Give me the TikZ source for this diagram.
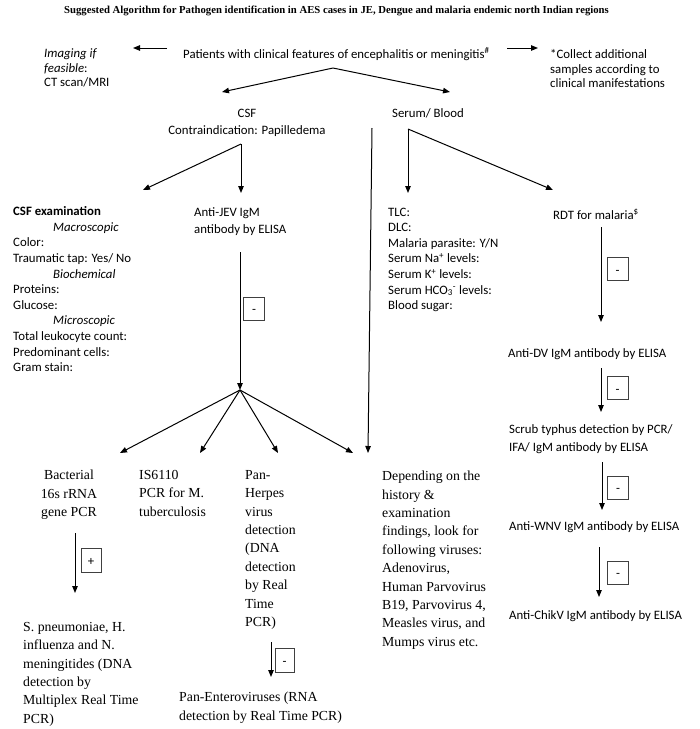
\documentclass[tikz,border=0pt]{standalone}
\usepackage{fontspec}
\setmainfont{Carlito}
\newfontfamily\serifrm{Liberation Serif}
\usetikzlibrary{arrows.meta}
\begin{document}
\begin{tikzpicture}[x=1pt,y=-1pt,
  sans/.style={font=\fontsize{12.8}{15.6}\selectfont, inner sep=0pt, align=left},
  sanssp/.style={font=\fontsize{12.8}{14.5}\selectfont, inner sep=0pt, align=left},
  serifl/.style={font=\serifrm\fontsize{13.8}{18.4}\selectfont, inner sep=0pt, align=left},
  serifc/.style={font=\serifrm\fontsize{13.8}{18.4}\selectfont, inner sep=0pt, align=center},
  arr/.style={-{Triangle[length=7pt,width=5.5pt]}, line width=1pt},
  ln/.style={line width=1pt},
  signbox/.style={draw=black!75, line width=0.6pt, minimum width=21pt, minimum height=23pt, inner sep=0pt, text height=10pt, text depth=0pt, font=\fontsize{12.8}{14}\selectfont}
]
\useasboundingbox (0,0) rectangle (700,729);
\fill[white] (0,0) rectangle (700,729);

% title
\node[anchor=base, inner sep=0pt, font=\serifrm\bfseries\fontsize{10.7}{12}\selectfont] (title) at (336.5,13.5)
  {Suggested Algorithm for Pathogen identification in AES cases in JE, Dengue and malaria endemic north Indian regions};

% top row
\node[sans, anchor=base west] (patients) at (183,58)
  {Patients with clinical features of encephalitis or meningitis\textsuperscript{\#}};
\node[sanssp, anchor=north west] (imaging) at (44,48.5)
  {\textit{Imaging if}\\\textit{feasible}:\\CT scan/MRI};
\node[sanssp, anchor=north west] (collect) at (550,49.5)
  {*Collect additional\\samples according to\\clinical manifestations};
\coordinate (la1) at (167,48);
\coordinate (la2) at (133,48);
\coordinate (ra1) at (507,48);
\coordinate (ra2) at (538,48);
\draw[arr] (la1) -- (la2);
\draw[arr] (ra1) -- (ra2);

% V split
\coordinate (vapex) at (333,68);
\coordinate (vleft) at (222,92);
\coordinate (vright) at (450,92);
\draw[arr] (vapex) -- (vleft);
\draw[arr] (vapex) -- (vright);

\node[sans, anchor=base] (csf) at (247,117) {CSF};
\node[sans, anchor=base] (contra) at (247,134) {Contraindication: Papilledema};
\node[sans, anchor=base] (serum) at (428,117) {Serum/ Blood};

% CSF fork
\coordinate (cfork) at (241,144);
\coordinate (cfl) at (143,190);
\coordinate (cfd) at (241,193);
\draw[arr] (cfork) -- (cfl);
\draw[arr] (cfork) -- (cfd);

% Serum fork
\coordinate (sfork) at (408,129);
\coordinate (sfd) at (408,193);
\coordinate (sfr) at (553,190);
\draw[arr] (sfork) -- (sfd);
\draw[arr] (sfork) -- (sfr);

% long line from serum
\coordinate (lltop) at (372,128);
\coordinate (llbot) at (368,453);
\draw[arr] (lltop) -- (llbot);

% CSF examination
\node[sans, anchor=north west] (csfexam) at (13,206.5)
  {\textbf{CSF examination}\\
   \hspace*{40pt}\textit{Macroscopic}\\
   Color:\\
   Traumatic tap: Yes/ No\\
   \hspace*{40pt}\textit{Biochemical}\\
   Proteins:\\
   Glucose:\\
   \hspace*{40pt}\textit{Microscopic}\\
   Total leukocyte count:\\
   Predominant cells:\\
   Gram stain:};

% Anti-JEV
\node[sans, anchor=north west, font=\fontsize{12.8}{17}\selectfont] (jev) at (194,207.5)
  {Anti-JEV IgM\\antibody by ELISA};
\coordinate (jevtop) at (240,252);
\coordinate (fan) at (240,390);
\draw[arr] (jevtop) -- (fan);
\node[signbox] (jevbox) at (254,308.5) {-};

% serum list
\node[sans, anchor=north west] (tlc) at (388,207.5)
  {TLC:\\DLC:\\Malaria parasite: Y/N\\Serum Na\textsuperscript{+} levels:\\Serum K\textsuperscript{+} levels:\\Serum HCO\textsubscript{3}\textsuperscript{-} levels:\\Blood sugar:};

% right column
\node[sans, anchor=base] (rdt) at (596,219) {RDT for malaria\textsuperscript{\$}};
\coordinate (r1a) at (601,227);
\coordinate (r1b) at (601,322);
\draw[arr] (r1a) -- (r1b);
\node[signbox] (rbox1) at (617.5,269) {-};

\node[sans, anchor=base west] (dv) at (508,357) {Anti-DV IgM antibody by ELISA};
\coordinate (r2a) at (601,368);
\coordinate (r2b) at (601,412);
\draw[arr] (r2a) -- (r2b);
\node[signbox] (rbox2) at (617.5,388) {-};

\node[sans, anchor=north west, font=\fontsize{12.8}{18}\selectfont] (scrub) at (509,424.5)
  {Scrub typhus detection by PCR/\\IFA/ IgM antibody by ELISA};
\coordinate (r3a) at (602,462);
\coordinate (r3b) at (602,510);
\draw[arr] (r3a) -- (r3b);
\node[signbox] (rbox3) at (618,487.5) {-};

\node[sans, anchor=base west] (wnv) at (509,530) {Anti-WNV IgM antibody by ELISA};
\coordinate (r4a) at (599,547);
\coordinate (r4b) at (599,597);
\draw[arr] (r4a) -- (r4b);
\node[signbox] (rbox4) at (618,572.5) {-};

\node[sans, anchor=base west] (chikv) at (509,619) {Anti-ChikV IgM antibody by ELISA};

% fan
\coordinate (f1) at (120,453);
\coordinate (f2) at (200,453);
\coordinate (f3) at (278,453);
\coordinate (f4) at (353,453);
\draw[arr] (fan) -- (f1);
\draw[arr] (fan) -- (f2);
\draw[arr] (fan) -- (f3);
\draw[arr] (fan) -- (f4);

% bottom serif texts
\node[serifc, anchor=north] (bact) at (69,470)
  {Bacterial\\16s rRNA\\gene PCR};
\node[serifl, anchor=north west] (is6110) at (139,470)
  {IS6110\\PCR for M.\\tuberculosis};
\node[serifl, anchor=north west] (herpes) at (245,470)
  {Pan-\\Herpes\\virus\\detection\\(DNA\\detection\\by Real\\Time\\PCR)};
\node[serifl, anchor=north west] (depend) at (382,471)
  {Depending on the\\history \&\\examination\\findings, look for\\following viruses:\\Adenovirus,\\Human Parvovirus\\B19, Parvovirus 4,\\Measles virus, and\\Mumps virus etc.};

\coordinate (b1a) at (75,533);
\coordinate (b1b) at (75,593);
\draw[arr] (b1a) -- (b1b);
\node[signbox, minimum width=20pt, minimum height=24pt] (bbox) at (91,560) {+};

\node[serifl, anchor=north west] (spneu) at (23,622)
  {S. pneumoniae, H.\\influenza and N.\\meningitides (DNA\\detection by\\Multiplex Real Time\\PCR)};

\coordinate (h1a) at (271,642);
\coordinate (h1b) at (271,677);
\draw[arr] (h1a) -- (h1b);
\node[signbox, minimum width=19pt, minimum height=24pt] (hbox) at (284.5,660) {-};

\node[serifl, anchor=north west] (entero) at (179,692)
  {Pan-Enteroviruses (RNA\\detection by Real Time PCR)};
\end{tikzpicture}
\end{document}
